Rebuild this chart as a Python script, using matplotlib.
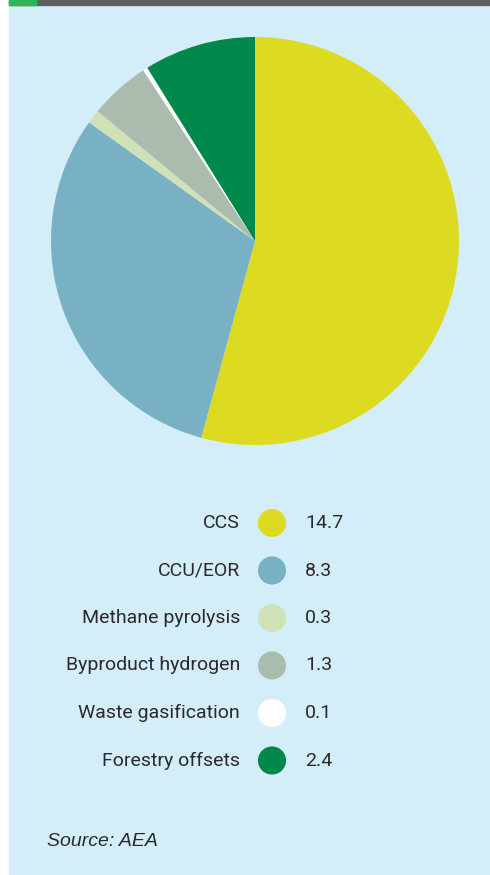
import matplotlib.pyplot as plt
from matplotlib.patches import Rectangle

labels = ["CCS", "CCU/EOR", "Methane pyrolysis", "Byproduct hydrogen",
          "Waste gasification", "Forestry offsets"]
values = [14.7, 8.3, 0.3, 1.3, 0.1, 2.4]
value_text = ["14.7", "8.3", "0.3", "1.3", "0.1", "2.4"]
colors = ["#dcdb22", "#79b1c4", "#d0e1b8", "#a9bcad", "#ffffff", "#00884b"]

W, H = 490, 875
bg = "#d4eef9"

fig = plt.figure(figsize=(W / 100, H / 100), dpi=100)
fig.patch.set_facecolor("white")

# full-figure overlay in pixel coords
base = fig.add_axes([0, 0, 1, 1])
base.set_xlim(0, W)
base.set_ylim(H, 0)
base.axis("off")
base.add_patch(Rectangle((9, 0), W - 9, H, color=bg, zorder=0))
base.add_patch(Rectangle((9, 0), W - 9, 5, color="#606062", zorder=1))
base.add_patch(Rectangle((9, 0), 27, 5, color="#2fb457", zorder=2))

# pie
cx, cy, r = 255, 241, 204
pie_ax = fig.add_axes([(cx - r) / W, 1 - (cy + r) / H, 2 * r / W, 2 * r / H])
pie_ax.pie(values, colors=colors, startangle=90, counterclock=False,
           wedgeprops=dict(linewidth=0))
pie_ax.set_xlim(-1, 1)
pie_ax.set_ylim(-1, 1)
pie_ax.set_aspect("equal")
pie_ax.axis("off")

# legend rows
font = ["Roboto", "DejaVu Sans"]
row_y0, row_step = 523, 47.5
for i, (lab, val, col) in enumerate(zip(labels, value_text, colors)):
    y = row_y0 + i * row_step
    base.text(240, y, lab, ha="right", va="center", fontsize=14,
              family=font, color="#2a2a2a")
    base.scatter([272], [y], s=410, color=col, edgecolors="none", zorder=3)
    base.text(305, y, val, ha="left", va="center", fontsize=14,
              family=font, color="#2a2a2a")

base.text(47, 842, "Source: AEA", ha="left", va="center", fontsize=14,
          style="italic", family=["Liberation Sans", "DejaVu Sans"], color="#2a2a2a")

fig.savefig("out.png", dpi=100, facecolor=fig.get_facecolor())
